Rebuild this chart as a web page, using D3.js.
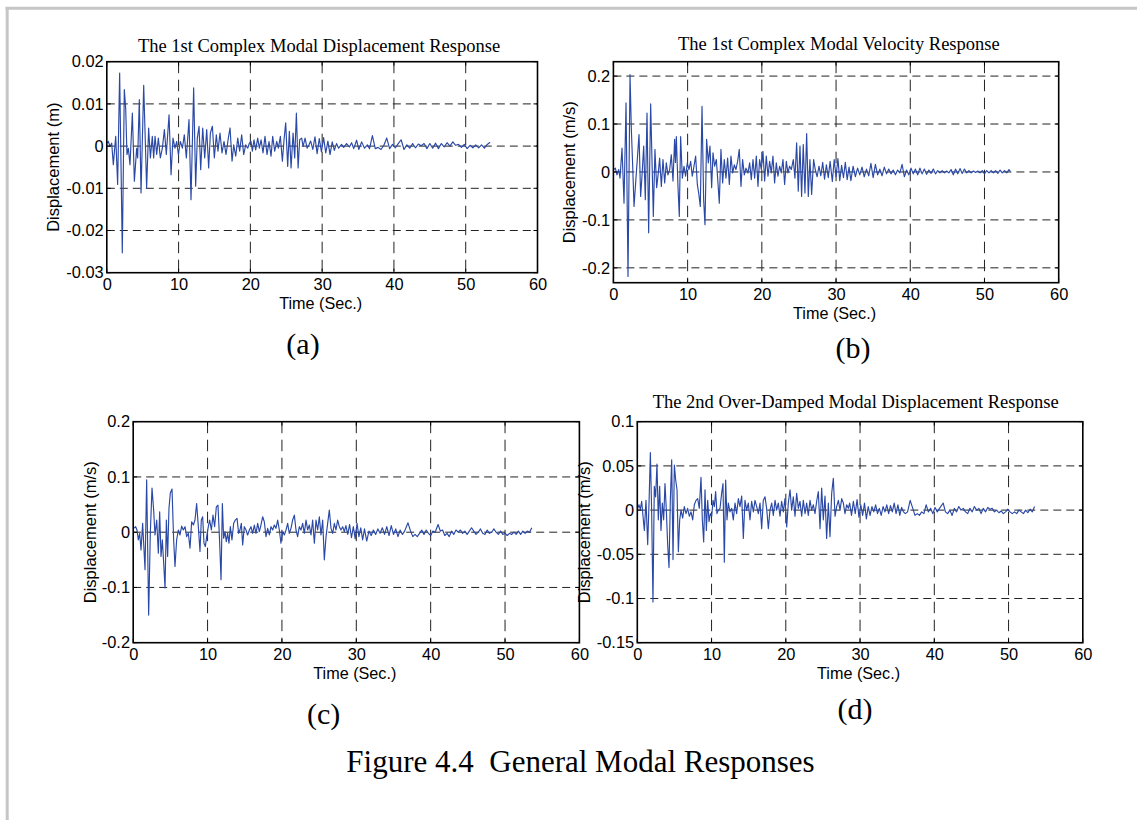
<!DOCTYPE html>
<html>
<head>
<meta charset="utf-8">
<script src="https://cdn.jsdelivr.net/npm/d3@7"></script>
<style>
  body { margin: 0; background: #fff; }
  svg { display: block; }
</style>
</head>
<body>
<div id="fig"></div>
<script>
// ---- data (time in s, response value) ----
const xTicks = [0, 10, 20, 30, 40, 50, 60];
const yTicksA = [-0.03, -0.02, -0.01, 0, 0.01, 0.02];
const yTicksB = [-0.2, -0.1, 0, 0.1, 0.2];
const yTicksC = [-0.2, -0.1, 0, 0.1, 0.2];
const yTicksD = [-0.15, -0.1, -0.05, 0, 0.05, 0.1];

const titles = [
  "The 1st Complex Modal Displacement Response",
  "The 1st Complex Modal Velocity Response",
  "",
  "The 2nd Over-Damped Modal Displacement Response"
];
const yLabels = ["Displacement (m)", "Displacement (m/s)", "Displacement (m/s)", "Displacement (m/s)"];
const xLabel = "Time (Sec.)";
const panelTags = ["(a)", "(b)", "(c)", "(d)"];
const caption = "Figure 4.4  General Modal Responses";

const seriesA = [
  [0,0.0007],[0.21,0.0011],[0.45,-0.0001],[0.68,0.0007],[0.91,-0.0044],[1.24,0.0023],[1.51,-0.0091],[1.79,0.0173],
  [2.16,-0.0253],[2.44,0.0134],[2.63,0.009],[2.81,-0.002],[3.0,-0.0005],[3.23,-0.0044],[3.56,0.0078],[3.84,-0.0083],
  [4.16,-0.0005],[4.3,-0.0028],[4.53,0.011],[4.77,-0.0111],[5.14,0.0144],[5.55,-0.0099],[5.83,0.0043],[6.07,-0.0028],
  [6.34,0.0023],[6.53,-0.0028],[6.72,0.0023],[6.95,-0.002],[7.18,0.0019],[7.46,-0.0028],[7.74,-0.0005],[8.02,0.0039],
  [8.29,-0.002],[8.67,0.0074],[8.95,-0.0068],[9.22,0.0019],[9.5,-0.0005],[9.74,0.0011],[9.97,-0.002],[10.25,0.0011],
  [10.53,-0.0005],[10.8,0.0027],[11.08,-0.0028],[11.45,0.0063],[11.73,-0.0127],[12.1,0.0138],[12.38,-0.0095],[12.61,0.0019],
  [12.85,0.0047],[13.08,-0.0056],[13.36,0.0043],[13.64,-0.0028],[13.92,0.0039],[14.19,-0.0052],[14.43,0.0031],[14.71,0.0047],
  [14.98,-0.0028],[15.26,0.0027],[15.49,-0.0012],[15.77,0.0031],[16.05,-0.0016],[16.33,0.0011],[16.61,-0.002],[16.93,0.0019],
  [17.17,0.0043],[17.45,-0.0036],[17.68,0.0003],[17.96,-0.0024],[18.24,0.0019],[18.51,-0.0012],[18.79,0.0027],[19.07,-0.002],
  [19.35,0.0003],[19.63,-0.0005],[19.86,0.0007],[20.09,0.0011],[20.28,-0.0012],[20.51,0.0015],[20.74,-0.0009],[21.02,0.0019],
  [21.25,-0.0005],[21.49,0.0015],[21.76,-0.0016],[22.04,0.0023],[22.32,-0.002],[22.6,0.0011],[22.88,-0.0024],[23.11,0.0023],
  [23.39,-0.0012],[23.67,0.0011],[23.9,-0.0005],[24.18,0.0023],[24.46,-0.0036],[24.69,0.0015],[24.92,0.0055],[25.2,-0.0048],
  [25.43,0.0035],[25.67,-0.0052],[25.95,0.0031],[26.18,-0.0028],[26.41,0.0078],[26.65,-0.0052],[26.87,0.0015],[27.15,0.0019],
  [27.34,-0.0001],[27.62,0.0019],[27.9,-0.0005],[28.17,0.0003],
  [28.4,0.0012],[28.7,-0.0008],[29.0,0.0022],[29.3,-0.0018],[29.6,0.0018],[29.9,-0.0014],[30.2,0.002],[30.5,-0.0016],
  [30.8,0.0012],[31.1,-0.002],[31.4,0.001],[31.7,-0.001],[32.0,0.0006],[32.3,-0.0005],[32.7,0.0004],[33.0,-0.0003],
  [33.4,0.0006],[33.8,-0.0002],[34.1,0.0008],[34.4,-0.0006],[34.8,0.0014],[35.1,-0.0008],[35.5,0.001],[35.9,-0.0005],
  [36.3,0.0003],[36.6,-0.0006],[37.0,0.0025],[37.4,-0.0006],[37.8,-0.0003],[38.2,-0.0008],[38.6,0.0002],[39.0,0.0019],
  [39.4,-0.0006],[39.8,0.0004],[40.2,-0.0004],[40.6,0.0006],[41.0,0.0015],[41.4,-0.0008],[41.8,0.0003],[42.2,-0.0005],
  [42.6,0.0006],[43.0,-0.0004],[43.4,0.0005],[43.8,0.0001],[44.2,0.0006],[44.6,-0.0006],[45.0,0.0006],[45.4,-0.0005],
  [45.8,0.0007],[46.2,-0.0006],[46.6,0.0006],[47.0,-0.0002],[47.4,0.0008],[47.8,0],[48.2,0.001],[48.6,0.0002],
  [49.0,0.0004],[49.4,-0.0003],[49.8,0.0004],[50.2,-0.0006],[50.6,0.0002],[51.0,-0.0004],[51.4,0.0003],[51.8,-0.0004],
  [52.2,0.0003],[52.6,-0.0005],[53.0,0.0004],[53.4,0.0009]
];

const seriesB = [
  [0.04,0.005],[0.26,0.008],[0.48,-0.006],[0.71,0.005],[0.89,-0.013],[1.16,0.05],[1.43,-0.065],[1.7,0.144],
  [1.97,-0.218],[2.24,0.203],[2.42,0.088],[2.6,0.012],[2.78,-0.072],[3.04,-0.013],[3.22,0.026],[3.45,0.078],
  [3.67,-0.051],[3.85,-0.009],[4.08,0.054],[4.3,-0.058],[4.53,0.123],[4.75,-0.127],[5.02,0.142],[5.38,-0.093],
  [5.6,0.047],[5.83,-0.033],[6.05,-0.002],[6.23,0.029],[6.46,-0.03],[6.68,0.026],[6.91,-0.023],[7.13,0.019],
  [7.35,-0.006],[7.58,0.005],[7.8,0.036],[8.03,-0.019],[8.25,0.068],[8.36,0.02],[8.48,0.074],[8.7,-0.03],
  [8.88,-0.093],[9.06,0.074],[9.29,-0.013],[9.51,0.012],[9.73,-0.009],[9.96,0.019],[10.18,0.005],[10.41,0.022],
  [10.63,-0.009],[10.86,0.012],[11.08,0.033],[11.31,-0.026],[11.49,-0.044],[11.71,-0.072],[11.94,0.137],[12.16,-0.058],
  [12.34,-0.11],[12.56,0.068],[12.79,0.019],[13.01,0.054],[13.24,-0.033],[13.42,0.04],[13.64,0.012],[13.87,0.026],
  [14.09,-0.023],[14.27,-0.065],[14.49,0.047],[14.72,-0.023],[14.94,0.026],[15.17,-0.013],[15.39,0.029],[15.62,-0.026],
  [15.84,0.033],[16.07,-0.002],[16.29,0.015],[16.51,0.005],[16.74,0.022],[16.96,0.047],[17.19,-0.03],[17.41,0.026],
  [17.64,-0.006],[17.86,0.008],[18.13,-0.002],[18.36,0.019],[18.58,-0.016],[18.81,0.026],[19.03,-0.013],[19.26,0.033],
  [19.48,-0.03],[19.7,0.026],[19.93,0.005],[20.15,0.043],[20.38,-0.019],[20.6,0.033],[20.83,-0.009],[21.05,0.022],
  [21.27,-0.002],[21.5,0.033],[21.72,-0.023],[21.95,0.019],[22.17,-0.009],[22.4,0.012],[22.62,-0.002],[22.85,0.026],
  [23.07,-0.026],[23.3,0.022],[23.52,-0.002],[23.74,0.012],[23.97,0.005],[24.24,0.026],[24.46,-0.013],[24.69,0.061],
  [24.91,-0.04],[25.14,0.054],[25.36,-0.051],[25.58,0.057],[25.81,-0.044],[26.04,0.08],[26.26,-0.051],[26.48,0.026],
  [26.71,-0.047],[26.98,0.026],[27.2,0.005],
  [27.45,-0.01],[27.7,0.012],[27.95,-0.008],[28.2,0.02],[28.45,-0.015],[28.7,0.015],[28.95,-0.012],[29.2,0.022],
  [29.5,-0.02],[29.75,0.026],[30.0,-0.01],[30.25,0.028],[30.5,-0.018],[30.75,0.014],[31.0,-0.012],[31.25,0.02],
  [31.5,-0.016],[31.75,0.01],[32.0,-0.018],[32.3,0.012],[32.6,-0.01],[32.9,0.008],[33.2,-0.006],[33.5,0.01],
  [33.8,-0.01],[34.1,0.006],[34.4,-0.008],[34.7,0.018],[35.0,-0.012],[35.3,0.016],[35.6,-0.006],[35.9,0.006],
  [36.2,-0.008],[36.5,0.01],[36.8,-0.004],[37.1,0.006],[37.4,-0.004],[37.7,0.004],[38.0,-0.006],[38.3,0.004],
  [38.6,-0.002],[38.9,0.016],[39.2,-0.01],[39.5,0.004],[39.8,-0.006],[40.1,0.008],[40.4,-0.004],[40.7,0.006],
  [41.0,-0.006],[41.3,0.008],[41.6,-0.004],[41.9,0.006],[42.2,-0.005],[42.5,0.004],[42.8,-0.003],[43.1,0.006],
  [43.4,-0.004],[43.7,0.003],[44.0,-0.002],[44.3,0.003],[44.6,-0.002],[44.9,0.002],[45.2,-0.002],[45.5,0.005],
  [45.8,-0.006],[46.1,0.006],[46.4,-0.004],[46.7,0.007],[47.0,-0.003],[47.3,0.006],[47.6,-0.002],[47.9,0.003],
  [48.2,-0.002],[48.5,0.002],[48.8,-0.001],[49.1,0.002],[49.4,-0.002],[49.7,0.003],[50.0,-0.004],[50.3,0.003],
  [50.6,-0.002],[50.9,0.003],[51.2,-0.002],[51.5,0.003],[51.8,-0.003],[52.1,0.004],[52.4,-0.002],[52.7,0.003],
  [53.0,-0.002],[53.3,0.005],[53.5,0.001]
];

const seriesC = [
  [0.06,0.007],[0.33,0.01],[0.51,0.004],[0.69,-0.014],[0.87,-0.002],[1.05,-0.032],[1.27,0.016],[1.59,-0.068],
  [1.81,0.095],[2.08,-0.15],[2.3,-0.002],[2.53,0.08],[2.75,0.04],[2.93,-0.005],[3.16,0.022],[3.38,-0.038],
  [3.56,0.037],[3.74,-0.044],[3.92,-0.014],[4.1,-0.056],[4.28,-0.101],[4.46,0.022],[4.63,-0.044],[4.81,0.043],
  [4.99,0.071],[5.22,0.078],[5.44,-0.014],[5.62,-0.062],[5.84,-0.014],[6.07,0.004],[6.29,-0.005],[6.52,0.011],
  [6.74,0.004],[6.97,0.01],[7.19,-0.008],[7.41,-0.002],[7.64,-0.029],[7.86,0.019],[8.09,0.013],[8.31,0.022],
  [8.53,0.052],[8.76,0.01],[8.98,-0.035],[9.16,0.022],[9.34,0.028],[9.52,-0.02],[9.7,-0.026],[9.88,-0.008],
  [10.1,0.01],[10.28,0.022],[10.51,0.004],[10.73,0.031],[10.95,0.01],[11.18,0.046],[11.4,0.049],[11.63,-0.02],
  [11.81,-0.086],[11.99,0.052],[12.16,-0.011],[12.34,0.001],[12.52,-0.017],[12.7,-0.002],[12.88,-0.02],[13.06,0.01],
  [13.28,-0.014],[13.51,0.016],[13.73,0.022],[13.96,0.025],[14.18,-0.002],[14.36,0.004],[14.54,0.016],[14.72,-0.023],
  [14.94,0.01],[15.17,0.004],[15.39,-0.005],[15.62,0.004],[15.84,0.01],[16.06,-0.002],[16.29,0.013],[16.51,-0.002],
  [16.74,0.016],[16.96,0.001],[17.18,0.013],[17.41,0.028],[17.63,0.019],[17.86,-0.008],[18.08,0.007],[18.31,-0.005],
  [18.53,0.01],[18.75,0.004],[18.98,0.013],[19.2,0.007],[19.43,0.022],[19.65,0.004],[19.87,-0.02],[20.1,0.001],
  [20.32,-0.005],[20.55,0.004],[20.77,0.016],[20.99,-0.002],[21.22,0.007],[21.44,0.022],[21.67,0.031],[21.89,0.004],
  [22.11,-0.008],[22.34,0.01],[22.56,0.004],[22.79,0.016],[23.01,-0.002],[23.24,0.022],[23.46,0.004],[23.68,0.013],
  [23.91,-0.005],[24.13,0.022],[24.36,-0.02],[24.58,0.022],[24.8,0.004],[25.03,0.028],[25.25,-0.005],[25.48,0.022],
  [25.7,-0.05],[25.93,-0.008],[26.15,0.016],[26.37,0.04],[26.6,0.007],[26.82,-0.002],[27.05,0.016],[27.27,0.004],
  [27.49,0.022],[27.72,0.01],[27.94,0.004],[28.17,0.01],[28.39,0.001],
  [28.6,0.012],[28.85,-0.004],[29.1,0.014],[29.35,-0.01],[29.6,0.01],[29.85,-0.012],[30.1,0.016],[30.35,-0.008],
  [30.6,0.008],[30.85,-0.014],[31.1,0.006],[31.4,-0.016],[31.7,0.002],[32.0,-0.006],[32.3,0.004],[32.6,-0.004],
  [32.9,0.006],[33.2,-0.002],[33.5,0.008],[33.8,-0.004],[34.1,0.01],[34.4,-0.006],[34.7,0.012],[35.0,-0.004],
  [35.3,0.006],[35.6,-0.008],[35.9,0.004],[36.2,-0.004],[36.5,0.002],[36.95,0.017],[37.3,0.002],[37.6,-0.008],
  [37.9,-0.004],[38.2,-0.008],[38.5,-0.002],[38.8,0.004],[39.1,-0.004],[39.4,0.004],[39.7,-0.002],[40.0,-0.006],
  [40.3,0.002],[40.6,0],[41.0,0.014],[41.3,0.002],[41.6,0.004],[41.9,-0.006],[42.2,-0.002],[42.5,-0.008],
  [42.8,0.002],[43.1,-0.004],[43.4,0.004],[43.7,0],[44.0,0.004],[44.3,-0.002],[44.6,0.002],[44.9,-0.004],
  [45.2,0.002],[45.5,0.008],[45.8,0.002],[46.1,-0.004],[46.4,0],[46.7,0.006],[47.0,-0.002],[47.3,-0.004],
  [47.6,0.004],[47.9,-0.002],[48.2,0],[48.5,0.006],[48.8,0],[49.1,-0.004],[49.4,0.002],[49.7,-0.004],
  [50.0,-0.002],[50.3,-0.006],[50.6,-0.002],[50.9,-0.004],[51.2,0],[51.5,-0.004],[51.8,0.002],[52.1,-0.004],
  [52.4,0.002],[52.7,-0.002],[53.0,0.002],[53.3,0],[53.6,0.008]
];

const seriesD = [
  [0.05,0.002],[0.23,0.006],[0.41,0.001],[0.59,0.01],[0.77,-0.007],[0.95,-0.023],[1.17,0.011],[1.4,-0.039],
  [1.58,0.008],[1.76,0.065],[1.93,0],[2.11,-0.104],[2.29,0.027],[2.47,0.015],[2.65,0.052],[2.83,-0.011],
  [3.01,0.027],[3.19,-0.023],[3.37,0.008],[3.55,-0.011],[3.73,0.03],[3.91,0],[4.09,-0.039],[4.27,-0.065],
  [4.45,0.011],[4.63,0.057],[4.81,-0.056],[4.99,0.051],[5.17,0.034],[5.35,0.023],[5.53,-0.047],[5.71,-0.011],
  [5.89,0],[6.11,-0.009],[6.33,0.004],[6.56,-0.004],[6.78,0.002],[7.01,-0.007],[7.23,-0.002],[7.46,-0.011],
  [7.68,0.006],[7.91,0.011],[8.13,0.013],[8.35,0.002],[8.58,0.037],[8.76,-0.011],[8.94,-0.036],[9.12,0.023],
  [9.3,-0.023],[9.48,0.011],[9.66,-0.013],[9.84,-0.004],[10.02,-0.007],[10.2,0.011],[10.38,0.004],[10.55,0.021],
  [10.73,-0.004],[10.91,0],[11.14,0.002],[11.36,0.019],[11.54,0.03],[11.72,-0.059],[11.9,0.034],[12.08,-0.011],
  [12.26,0.008],[12.48,-0.002],[12.71,0.002],[12.93,-0.011],[13.16,0.008],[13.38,-0.004],[13.61,0.013],[13.83,0.004],
  [14.06,0.016],[14.28,-0.032],[14.5,0.011],[14.73,0],[14.95,0.008],[15.18,-0.011],[15.4,0.01],[15.63,-0.002],
  [15.85,0.011],[16.08,0.004],[16.3,-0.004],[16.53,0.008],[16.75,-0.021],[16.97,0.011],[17.2,0.015],[17.42,0.002],
  [17.65,-0.021],[17.87,0],[18.1,0.008],[18.32,-0.006],[18.55,0.011],[18.77,0],[18.99,0.008],[19.22,-0.007],
  [19.44,0.01],[19.67,-0.002],[19.89,0.013],[20.12,-0.019],[20.34,0.008],[20.57,0.023],[20.79,0],[21.01,0.015],
  [21.24,-0.007],[21.46,0.019],[21.69,0.002],[21.91,0.01],[22.14,-0.007],[22.36,0.011],[22.59,-0.004],[22.81,0.008],
  [23.03,-0.006],[23.26,0.011],[23.48,0],[23.71,0.006],[23.93,-0.004],[24.16,0.01],[24.38,0.021],[24.61,-0.021],
  [24.83,0.025],[25.05,-0.011],[25.28,0.016],[25.5,-0.032],[25.73,0.008],[25.95,-0.03],[26.18,0.019],[26.4,0.036],
  [26.63,-0.007],[26.85,0.004],[27.08,0.011],[27.3,0],[27.53,0.013],[27.75,0.008],[27.97,-0.004],[28.2,0.006],
  [28.42,0.002],
  [28.6,0.008],[28.85,-0.006],[29.1,0.01],[29.35,-0.004],[29.6,0.012],[29.85,-0.008],[30.1,0.006],[30.35,-0.006],
  [30.6,0.008],[30.85,-0.01],[31.1,0.004],[31.35,-0.006],[31.6,0.004],[31.85,-0.002],[32.1,0.006],[32.35,-0.004],
  [32.6,0.002],[32.85,-0.006],[33.1,0.004],[33.35,-0.002],[33.6,0.006],[33.85,-0.004],[34.1,0.005],[34.35,-0.002],
  [34.6,0.008],[34.85,-0.004],[35.1,0.006],[35.35,-0.006],[35.6,0.003],[35.85,-0.002],[36.1,-0.004],[36.4,-0.002],
  [36.75,0.011],[37.1,0.002],[37.4,-0.006],[37.7,-0.004],[38.0,-0.006],[38.3,-0.002],[38.6,-0.004],[38.9,0.006],
  [39.2,-0.002],[39.5,0.002],[39.8,-0.004],[40.1,0.003],[40.4,-0.002],[40.7,0.002],[41.2,0.008],[41.5,-0.002],
  [41.8,-0.004],[42.1,0],[42.4,-0.006],[42.7,0.002],[43.0,-0.002],[43.3,0.004],[43.6,0],[43.9,0.002],
  [44.2,-0.002],[44.5,-0.004],[44.8,0.002],[45.1,-0.002],[45.4,0.004],[45.7,0],[46.0,0.002],[46.3,-0.004],
  [46.6,0.002],[46.9,-0.002],[47.2,0.003],[47.5,0.001],[47.8,0.002],[48.1,-0.002],[48.4,0],[48.7,-0.003],
  [49.0,-0.001],[49.3,-0.004],[49.6,-0.002],[49.9,0.001],[50.2,-0.002],[50.5,-0.004],[50.8,-0.002],[51.1,-0.004],
  [51.4,0],[51.7,-0.002],[52.0,-0.004],[52.3,0],[52.6,-0.003],[52.9,0.001],[53.2,-0.002],[53.5,0.004]
];

// ---- layout ----
const W = 1137, H = 820;
const sans = "'Liberation Sans', Arial, Helvetica, sans-serif";
const serif = "'Liberation Serif', 'Times New Roman', serif";
const lineColor = "#2a48a6";

const panels = [
  { data: seriesA, yTicks: yTicksA, yDomain: [-0.03, 0.02],
    left: 106.8, right: 537.5, top: 61.7, bottom: 272.7,
    titleX: 319, titleY: 51.5, yLabelX: 53.6, tagX: 303, tagY: 353.5 },
  { data: seriesB, yTicks: yTicksB, yDomain: [-0.231, 0.23],
    left: 613.4, right: 1058.7, top: 61.7, bottom: 282.7,
    titleX: 838.8, titleY: 49.5, yLabelX: 569, tagX: 853, tagY: 357.5 },
  { data: seriesC, yTicks: yTicksC, yDomain: [-0.2, 0.2],
    left: 133.2, right: 579.4, top: 421.7, bottom: 642.7,
    titleX: 0, titleY: 0, yLabelX: 90, tagX: 323.7, tagY: 723.5 },
  { data: seriesD, yTicks: yTicksD, yDomain: [-0.15, 0.1],
    left: 637.3, right: 1082.8, top: 421.7, bottom: 642.7,
    titleX: 855.7, titleY: 408, yLabelX: 584.5, tagX: 855, tagY: 718.5 }
];

const svg = d3.select("#fig").append("svg")
    .attr("width", W)
    .attr("height", H)
    .style("background", "#fff");

// page frame (grey rule on top and left)
svg.append("line").attr("x1", 5.5).attr("x2", W).attr("y1", 8.3).attr("y2", 8.3)
    .attr("stroke", "#c6c6c6").attr("stroke-width", 3);
svg.append("line").attr("x1", 7.2).attr("x2", 7.2).attr("y1", 7).attr("y2", H)
    .attr("stroke", "#c6c6c6").attr("stroke-width", 3);

const fmt = d => String(+d.toFixed(4));

panels.forEach((p, i) => {
    const x = d3.scaleLinear().domain([0, 60]).range([p.left, p.right]);
    const y = d3.scaleLinear().domain(p.yDomain).range([p.bottom, p.top]);
    const g = svg.append("g").attr("class", "panel");

    // grid
    g.selectAll(".vgrid")
        .data(xTicks.filter(t => x(t) > p.left + 1 && x(t) < p.right - 1))
        .enter().append("line")
        .attr("x1", d => x(d)).attr("x2", d => x(d))
        .attr("y1", p.top).attr("y2", p.bottom)
        .attr("stroke", "#222").attr("stroke-width", 1)
        .attr("stroke-dasharray", "11.5,6.5");
    g.selectAll(".hgrid")
        .data(p.yTicks.filter(t => y(t) > p.top + 1 && y(t) < p.bottom - 1))
        .enter().append("line")
        .attr("x1", p.left).attr("x2", p.right)
        .attr("y1", d => y(d)).attr("y2", d => y(d))
        .attr("stroke", "#222").attr("stroke-width", 1)
        .attr("stroke-dasharray", "8,5");

    // response curve
    g.append("path")
        .datum(p.data)
        .attr("d", d3.line().x(d => x(d[0])).y(d => y(d[1])))
        .attr("fill", "none")
        .attr("stroke", lineColor)
        .attr("stroke-width", 1.15)
        .attr("stroke-linejoin", "round");

    // inner tick marks (all four sides)
    const tk = 4;
    xTicks.forEach(t => {
        g.append("line").attr("x1", x(t)).attr("x2", x(t)).attr("y1", p.bottom).attr("y2", p.bottom - tk).attr("stroke", "#000");
        g.append("line").attr("x1", x(t)).attr("x2", x(t)).attr("y1", p.top).attr("y2", p.top + tk).attr("stroke", "#000");
    });
    p.yTicks.forEach(t => {
        g.append("line").attr("x1", p.left).attr("x2", p.left + tk).attr("y1", y(t)).attr("y2", y(t)).attr("stroke", "#000");
        g.append("line").attr("x1", p.right).attr("x2", p.right - tk).attr("y1", y(t)).attr("y2", y(t)).attr("stroke", "#000");
    });

    // box
    g.append("rect")
        .attr("x", p.left).attr("y", p.top)
        .attr("width", p.right - p.left).attr("height", p.bottom - p.top)
        .attr("fill", "none").attr("stroke", "#000").attr("stroke-width", 1.6);

    // tick labels
    const xa = g.append("g")
        .attr("transform", `translate(0,${p.bottom})`)
        .call(d3.axisBottom(x).tickValues(xTicks).tickSize(0).tickPadding(6).tickFormat(fmt));
    const ya = g.append("g")
        .attr("transform", `translate(${p.left},0)`)
        .call(d3.axisLeft(y).tickValues(p.yTicks).tickSize(0).tickPadding(3.2).tickFormat(fmt));
    [xa, ya].forEach(a => {
        a.select(".domain").remove();
        a.attr("font-family", sans).attr("font-size", 16.4);
        a.selectAll("text").attr("fill", "#000");
    });

    // axis labels
    g.append("text")
        .attr("x", (p.left + p.right) / 2 - 1.5).attr("y", p.bottom + 36)
        .attr("text-anchor", "middle")
        .attr("font-family", sans).attr("font-size", 16.2)
        .text(xLabel);
    g.append("text")
        .attr("transform", `translate(${p.yLabelX},${(p.top + p.bottom) / 2}) rotate(-90)`)
        .attr("dy", "0.35em")
        .attr("text-anchor", "middle")
        .attr("font-family", sans).attr("font-size", 16.5)
        .text(yLabels[i]);

    // title
    if (titles[i]) {
        g.append("text")
            .attr("x", p.titleX).attr("y", p.titleY)
            .attr("text-anchor", "middle")
            .attr("font-family", serif).attr("font-size", 18.5)
            .text(titles[i]);
    }

    // sub-figure tag
    svg.append("text")
        .attr("x", p.tagX).attr("y", p.tagY)
        .attr("text-anchor", "middle")
        .attr("font-family", serif).attr("font-size", 30)
        .text(panelTags[i]);
});

svg.append("text")
    .attr("x", 580.5).attr("y", 771.5)
    .attr("text-anchor", "middle")
    .attr("font-family", serif).attr("font-size", 31)
    .style("white-space", "pre")
    .attr("xml:space", "preserve")
    .text(caption);
</script>
</body>
</html>
